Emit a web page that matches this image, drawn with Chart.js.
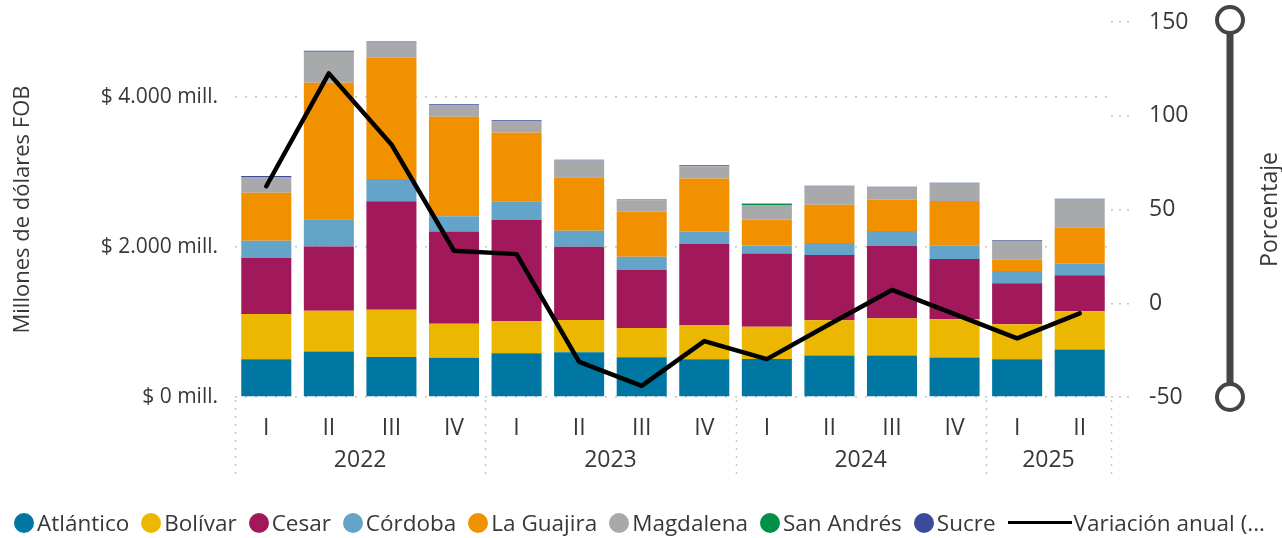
<!DOCTYPE html>
<html>
<head>
<meta charset="utf-8">
<script src="https://cdn.jsdelivr.net/npm/chart.js@4.4.1/dist/chart.umd.min.js"></script>
<style>
  html, body { margin: 0; padding: 0; background: #fff; }
  #wrap { position: relative; width: 1282px; height: 538px; }
  #c { position: absolute; left: 0; top: 0; }
  #legend { position: absolute; left: 14px; top: 507px; display: flex; align-items: center;
    font-family: "Segoe UI", "Open Sans", sans-serif; font-size: 22.5px; color: #383838; white-space: nowrap; }
  .item { display: flex; align-items: center; margin-right: 12px; }
  .dot { width: 20px; height: 20px; border-radius: 50%; margin-right: 3px; }
  .ln { width: 64px; height: 3px; background: #000; margin-right: 2px; }
</style>
</head>
<body>
<div id="wrap">
  <canvas id="c" width="1282" height="538"></canvas>
  <div id="legend"></div>
</div>
<script>
const quarters = ['I','II','III','IV','I','II','III','IV','I','II','III','IV','I','II'];
const years = ['2022','2023','2024','2025'];
const yearStart = [0, 4, 8, 12];
const yearEnd = [3, 7, 11, 13];

const atlantico  = [505, 606, 535, 522, 585, 598, 531, 504, 508, 555, 555, 528, 502, 635];
const bolivar    = [602, 544, 629, 455, 428, 428, 388, 455, 428, 468, 495, 508, 468, 508];
const cesar      = [749, 856, 1445, 1231, 1351, 977, 776, 1084, 977, 870, 963, 803, 548, 482];
const cordoba    = [227, 365, 298, 201, 245, 214, 174, 161, 107, 161, 201, 178, 161, 151];
const laGuajira  = [642, 1819, 1615, 1329, 919, 713, 606, 709, 348, 508, 419, 598, 151, 482];
const magdalena  = [210, 415, 205, 156, 151, 223, 147, 165, 187, 245, 161, 231, 254, 375];
const sanAndres  = [0, 0, 0, 0, 0, 0, 0, 0, 22, 0, 0, 0, 0, 0];
const sucre      = [11, 12, 12, 11, 11, 11, 11, 11, 2, 11, 11, 11, 11, 11];
const variacion  = [62.4, 122.6, 84.7, 28.0, 26.2, -31.3, -44.1, -20.2, -29.8, -11.2, 7.1, -5.8, -18.7, -5.4];

const leftTicks = [0, 2000, 4000];
const rightTicks = [-50, 0, 50, 100, 150];

const seriesNames = ['Atlántico','Bolívar','Cesar','Córdoba','La Guajira','Magdalena','San Andrés','Sucre'];
const seriesData = [atlantico, bolivar, cesar, cordoba, laGuajira, magdalena, sanAndres, sucre];
const seriesColors = ['#0077a2','#ebb700','#a1195a','#64a4c9','#f29100','#a8a9ab','#00904a','#3b4a9c'];
const lineLabel = 'Variación anual (...';

const FONT = '"Segoe UI", "Open Sans", sans-serif';
const TXT = '#383838';

function fmtMill(v) {
  return '$ ' + String(v).replace(/\B(?=(\d{3})+(?!\d))/g, '.') + ' mill.';
}

const datasets = seriesNames.map((n, i) => ({
  type: 'bar', label: n, data: seriesData[i], backgroundColor: seriesColors[i],
  borderWidth: 0, yAxisID: 'y', xAxisID: 'x', order: 1,
  barPercentage: 0.8, categoryPercentage: 1.0
}));
datasets.push({
  type: 'line', label: lineLabel, data: variacion, borderColor: '#000', backgroundColor: '#000',
  borderWidth: 4.5, pointRadius: 0, tension: 0, yAxisID: 'y1', xAxisID: 'x', order: 0,
  borderJoinStyle: 'round', borderCapStyle: 'round'
});

const extrasPlugin = {
  id: 'extras',
  afterDraw(chart) {
    const ctx = chart.ctx;
    const x = chart.scales.x;
    const y1 = chart.scales.y1;
    const x2 = chart.scales.x2;
    ctx.save();
    ctx.strokeStyle = '#c8c8c8';
    ctx.lineWidth = 1.5;
    ctx.setLineDash([2, 6]);
    const bounds = yearStart.map(s => s - 0.5).concat([yearEnd[yearEnd.length - 1] + 0.5]);
    bounds.forEach(b => {
      const px = Math.round(x.getPixelForValue(b)) + 0.5;
      ctx.beginPath();
      ctx.moveTo(px, chart.chartArea.bottom + 3);
      ctx.lineTo(px, x2.bottom);
      ctx.stroke();
    });
    ctx.restore();
    ctx.save();
    const sx = 1230;
    ctx.strokeStyle = '#454545';
    ctx.lineWidth = 7;
    ctx.beginPath();
    ctx.moveTo(sx, y1.top);
    ctx.lineTo(sx, y1.bottom);
    ctx.stroke();
    [y1.top - 2, y1.bottom].forEach(cy => {
      ctx.beginPath();
      ctx.arc(sx, cy, 13, 0, Math.PI * 2);
      ctx.fillStyle = '#fff';
      ctx.fill();
      ctx.lineWidth = 4;
      ctx.stroke();
    });
    ctx.translate(1270, (y1.top + y1.bottom) / 2);
    ctx.rotate(-Math.PI / 2);
    ctx.fillStyle = TXT;
    ctx.font = '23px ' + FONT;
    ctx.textAlign = 'center';
    ctx.textBaseline = 'middle';
    ctx.fillText('Porcentaje', 0, 0);
    ctx.restore();
  }
};

const chart = new Chart(document.getElementById('c'), {
  data: { labels: quarters, datasets },
  options: {
    responsive: false,
    animation: false,
    layout: { padding: { top: 22, bottom: 61, left: 0, right: 0 } },
    plugins: { legend: { display: false }, tooltip: { enabled: false } },
    scales: {
      x: {
        type: 'category', stacked: true, offset: true,
        grid: { display: false }, border: { display: false },
        ticks: { color: TXT, font: { family: FONT, size: 23 }, padding: 10, maxRotation: 0 },
        afterFit(s) { s.height = 40; }
      },
      x2: {
        type: 'linear', position: 'bottom', min: -0.5, max: 13.5,
        grid: { display: false }, border: { display: false },
        afterBuildTicks(s) {
          s.ticks = yearStart.map((st, i) => ({ value: (st + yearEnd[i]) / 2 }));
        },
        ticks: {
          color: TXT, font: { family: FONT, size: 23 }, padding: 2, maxRotation: 0, autoSkip: false,
          callback(v) { const i = yearStart.findIndex((st, k) => (st + yearEnd[k]) / 2 === v); return i >= 0 ? years[i] : ''; }
        },
        afterFit(s) { s.height = 40; s.paddingLeft = 0; s.paddingRight = 0; }
      },
      y: {
        type: 'linear', position: 'left', stacked: true, min: 0, max: 5000,
        afterBuildTicks(s) { s.ticks = leftTicks.map(v => ({ value: v })); },
        grid: { color: '#c4c4c4', lineWidth: 1.5, drawTicks: false, tickLength: 0 },
        border: { display: false, dash: [2, 8] },
        ticks: { color: TXT, font: { family: FONT, size: 21 }, padding: 17, callback: v => fmtMill(v) },
        title: { display: true, text: 'Millones de dólares FOB', color: TXT, font: { family: FONT, size: 22 }, padding: { top: 10, bottom: 0 } },
        afterFit(s) { s.width = 235; s.paddingTop = 8; s.paddingBottom = 8; }
      },
      y1: {
        type: 'linear', position: 'right', min: -50, max: 150,
        afterBuildTicks(s) { s.ticks = rightTicks.map(v => ({ value: v })); },
        grid: { drawOnChartArea: false, drawTicks: true, tickLength: 18, color: '#c4c4c4', lineWidth: 1.5, tickBorderDash: [2, 6], tickBorderDashOffset: 0 },
        border: { display: false },
        ticks: { color: TXT, font: { family: FONT, size: 23 }, padding: 20 },
        afterFit(s) { s.width = 171; s.paddingTop = 8; s.paddingBottom = 8; }
      }
    }
  },
  plugins: [extrasPlugin]
});

const lg = document.getElementById('legend');
chart.data.datasets.forEach(ds => {
  const it = document.createElement('div');
  it.className = 'item';
  const mk = document.createElement('span');
  if (ds.type === 'line') { mk.className = 'ln'; } else { mk.className = 'dot'; mk.style.background = ds.backgroundColor; }
  const tx = document.createElement('span');
  tx.textContent = ds.label;
  it.appendChild(mk); it.appendChild(tx);
  lg.appendChild(it);
});
</script>
</body>
</html>
